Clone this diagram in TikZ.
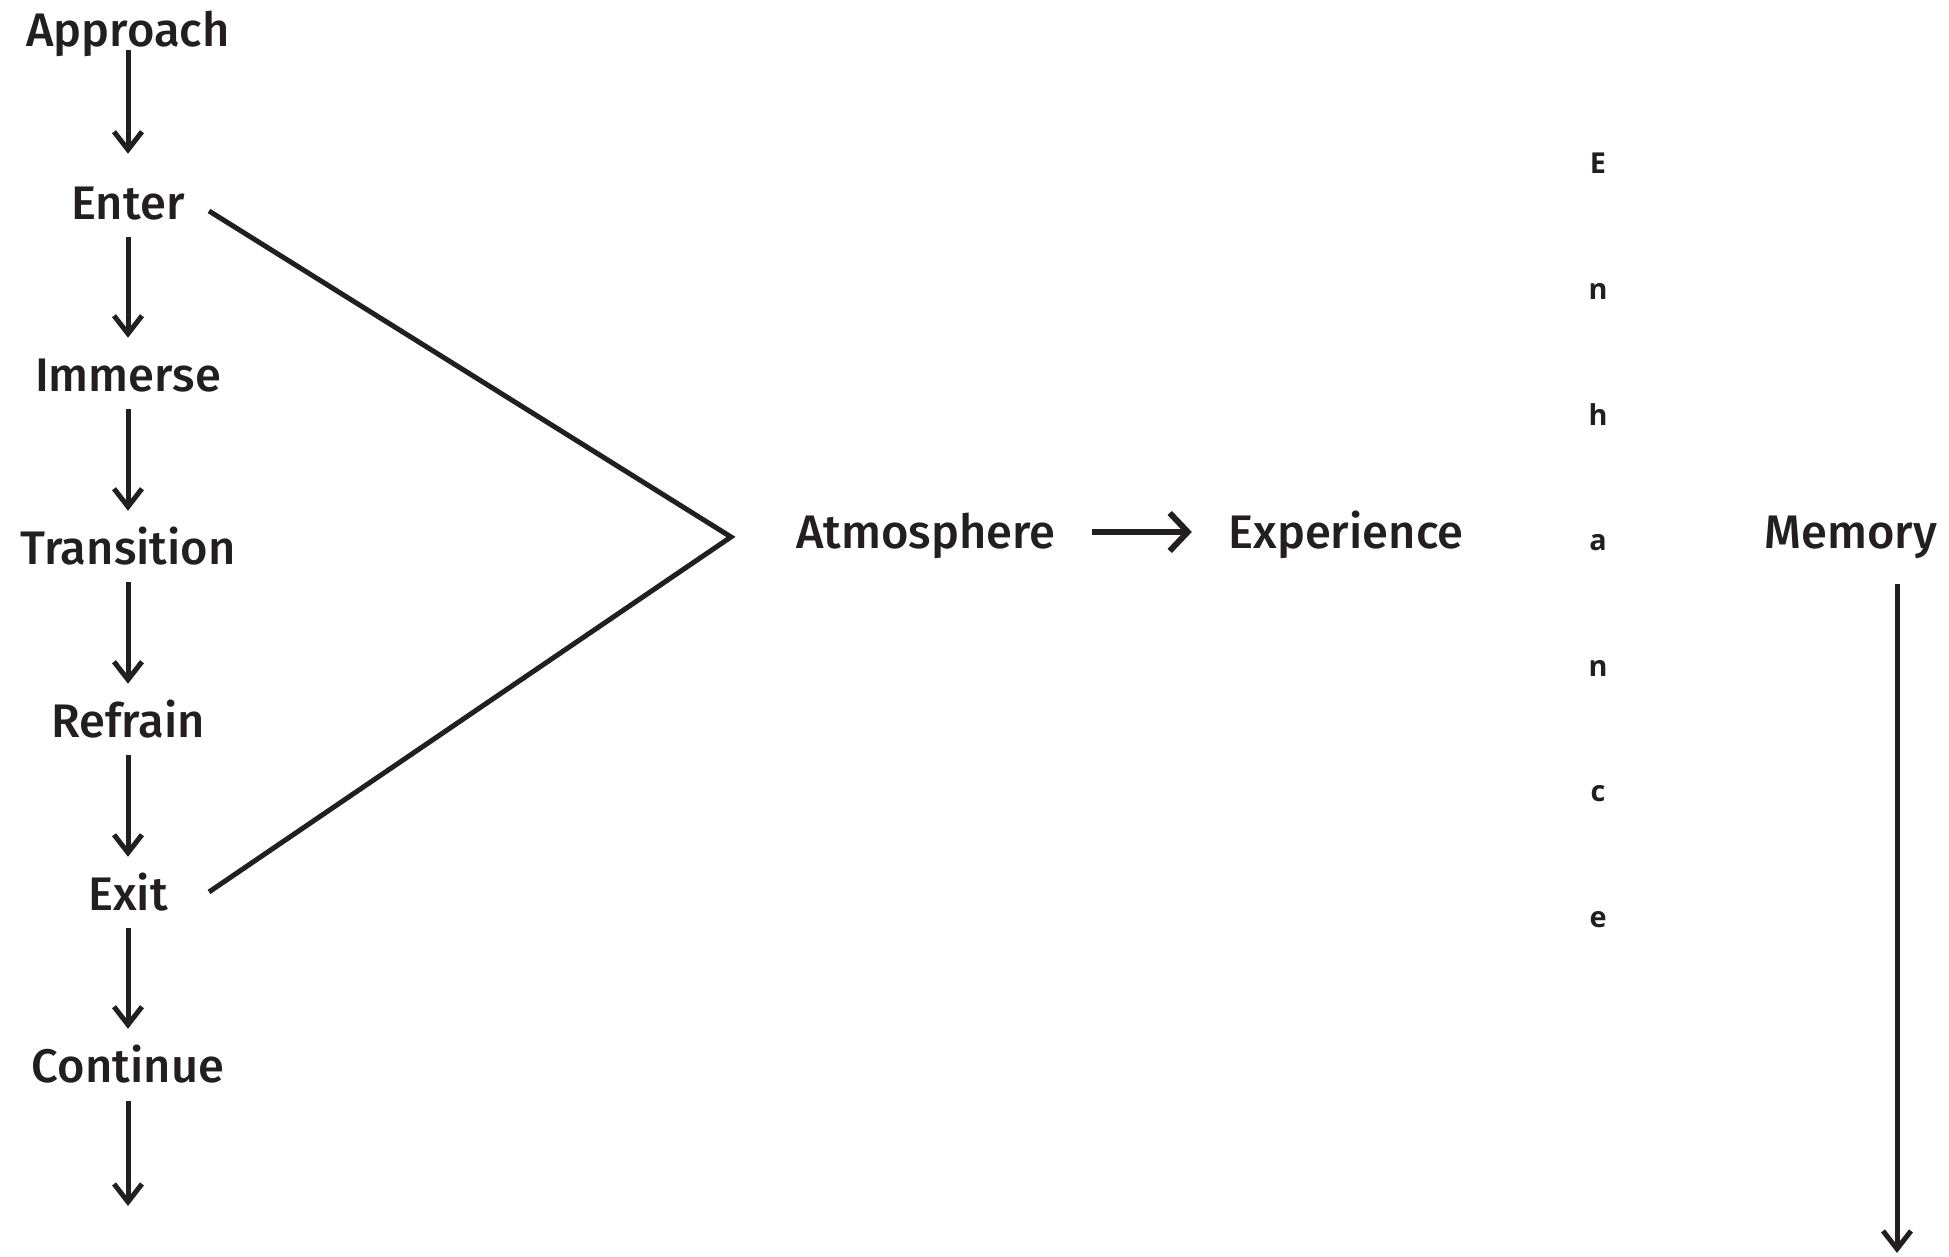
\documentclass[tikz,border=0pt]{standalone}
\usepackage{fontspec}
\setmainfont{Fira Sans}[UprightFont={* Medium}]
\newfontfamily\letterfont{Open Sans}
\usetikzlibrary{arrows.meta}
\definecolor{ink}{HTML}{231F20}

\begin{document}
\begin{tikzpicture}[auto, ink,
    stage/.style={inner sep=0pt, text height=0.33cm, text depth=0pt, font=\fontsize{13.4}{16}\selectfont},
    flow/.style={line width=0.5mm, -{Straight Barb[length=1.8mm,width=2.8mm]}},
    link/.style={line width=0.5mm},
    letter/.style={inner sep=0pt, anchor=base, font=\letterfont\bfseries\fontsize{8.2}{10}\selectfont}]
    \useasboundingbox (0, 0) rectangle (19.49, 12.57);
    \node[stage] (approach) at (1.28, 12.27) {Approach};
    \node[stage] (enter) at (1.28, 10.54) {Enter};
    \node[stage] (immerse) at (1.28, 8.82) {Immerse};
    \node[stage] (transition) at (1.28, 7.09) {Transition};
    \node[stage] (refrain) at (1.28, 5.36) {Refrain};
    \node[stage] (exit) at (1.28, 3.63) {Exit};
    \node[stage] (continue) at (1.28, 1.91) {Continue};
    \coordinate (onward) at (1.28, 0.51);
    \node[stage] (atmosphere) at (9.26, 7.25) {Atmosphere};
    \node[stage] (experience) at (13.46, 7.25) {Experience};
    \node[stage] (memory) at (18.51, 7.25) {Memory};
    \coordinate (recall) at (18.97, 0.04);
    \coordinate (enterfoot) at (2.09, 10.46);
    \coordinate (apex) at (7.31, 7.20);
    \coordinate (exitfoot) at (2.09, 3.65);
    % Enhance, one letter under the other
    \node[letter] (e1) at (15.98, 10.83) {E};
    \node[letter] (e2) at (15.98, 9.57) {n};
    \node[letter] (e3) at (15.98, 8.31) {h};
    \node[letter] (e4) at (15.98, 7.06) {a};
    \node[letter] (e5) at (15.98, 5.80) {n};
    \node[letter] (e6) at (15.98, 4.55) {c};
    \node[letter] (e7) at (15.98, 3.29) {e};
    \draw [flow, shorten <=0.03cm, shorten >=0.32cm] (approach.south) to (enter.north);
    \draw [flow, shorten <=0.17cm, shorten >=0.2cm] (enter.south) to (immerse.north);
    \draw [flow, shorten <=0.17cm, shorten >=0.2cm] (immerse.south) to (transition.north);
    \draw [flow, shorten <=0.17cm, shorten >=0.2cm] (transition.south) to (refrain.north);
    \draw [flow, shorten <=0.17cm, shorten >=0.2cm] (refrain.south) to (exit.north);
    \draw [flow, shorten <=0.17cm, shorten >=0.2cm] (exit.south) to (continue.north);
    \draw [flow, shorten <=0.18cm] (continue.south) to (onward);
    \draw [link] (enterfoot) -- (apex) -- (exitfoot);
    \draw [line width=0.6mm, -{Straight Barb[length=1.8mm,width=3.8mm]}, shorten <=0.36cm, shorten >=0.36cm] (atmosphere.east) to (experience.west);
    \draw [flow, shorten <=0.35cm] (recall |- memory.south) to (recall);
\end{tikzpicture}
\end{document}
